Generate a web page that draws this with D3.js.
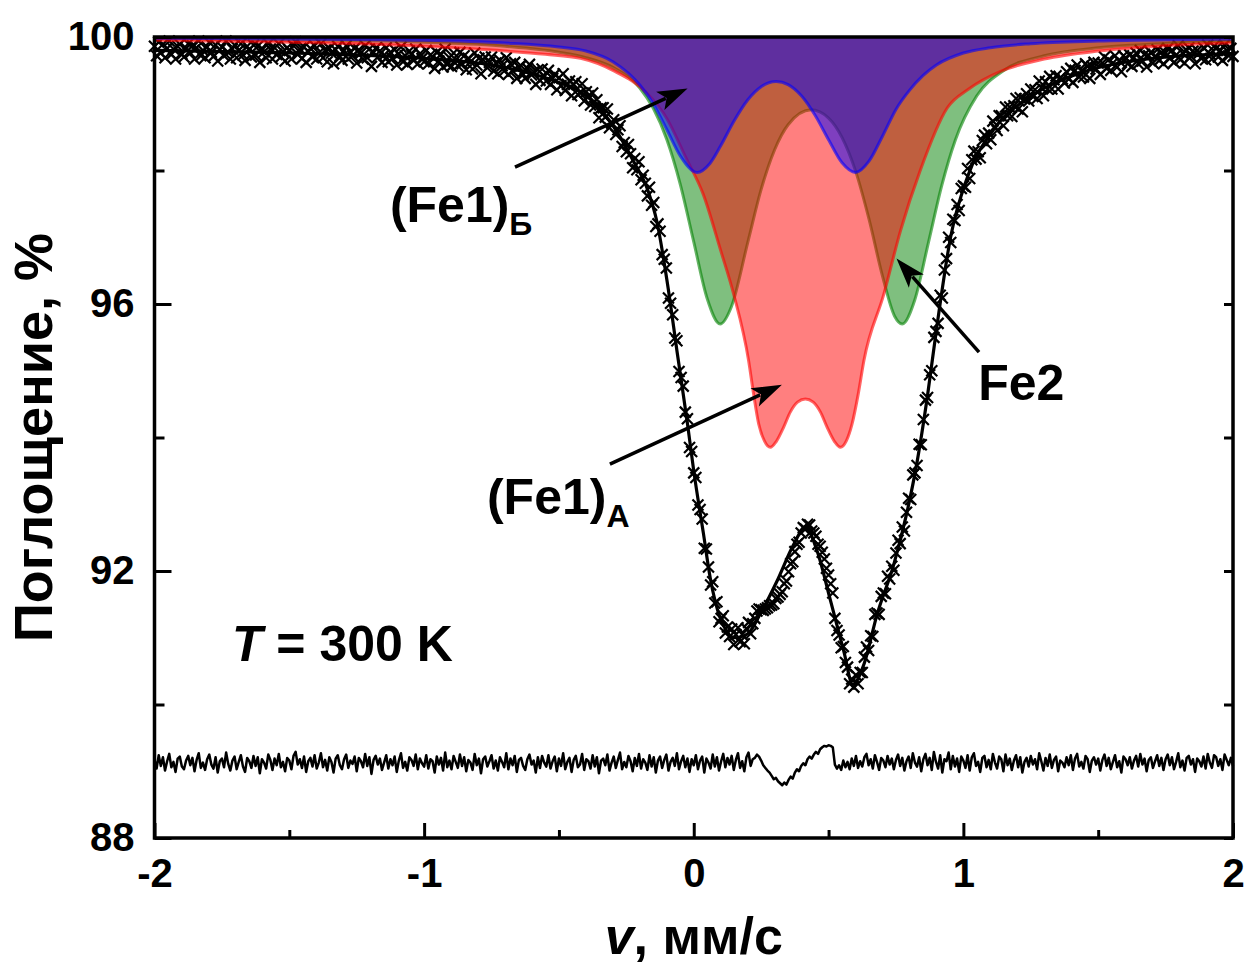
<!DOCTYPE html>
<html>
<head>
<meta charset="utf-8">
<script src="https://cdn.jsdelivr.net/npm/d3@7"></script>
<style>
html, body { margin: 0; padding: 0; background: #fff; }
svg { display: block; font-family: "Liberation Sans", Arial, sans-serif; font-weight: bold; }
</style>
</head>
<body>
<svg id="chart" width="1248" height="966"></svg>
<script>
// Axis limits and ticks
const velocityRange = [-2, 2];
const absorptionRange = [88, 100];
const xMajorTicks = [-2, -1, 0, 1, 2];
const xMinorTicks = [-1.5, -0.5, 0.5, 1.5];
const yMajorTicks = [88, 92, 96, 100];
const yMinorTicks = [90, 94, 98];

// Measured spectrum: 513 channels from -2 to +2 mm/s, absorption in %
const channelStart = -2;
const channelStep = 1 / 128;
const absorption = [
  99.86, 99.72, 99.92, 99.76, 99.89, 99.69, 99.83, 99.94, 99.74, 99.82, 99.67, 99.86, 99.89, 99.74, 99.70, 99.83,
  99.90, 99.76, 99.87, 99.67, 99.84, 99.94, 99.72, 99.80, 99.69, 99.85, 99.92, 99.77, 99.71, 99.88, 99.64, 99.81,
  99.85, 99.72, 99.94, 99.77, 99.67, 99.82, 99.88, 99.69, 99.80, 99.90, 99.73, 99.65, 99.86, 99.81, 99.70, 99.88,
  99.73, 99.86, 99.62, 99.83, 99.78, 99.69, 99.90, 99.82, 99.67, 99.84, 99.74, 99.90, 99.70, 99.78, 99.64, 99.84,
  99.80, 99.67, 99.87, 99.93, 99.74, 99.82, 99.68, 99.85, 99.62, 99.78, 99.83, 99.70, 99.87, 99.67, 99.76, 99.90,
  99.69, 99.80, 99.63, 99.83, 99.76, 99.60, 99.81, 99.86, 99.71, 99.65, 99.80, 99.87, 99.67, 99.78, 99.72, 99.83,
  99.61, 99.81, 99.76, 99.67, 99.87, 99.69, 99.82, 99.56, 99.77, 99.83, 99.70, 99.79, 99.62, 99.73, 99.84, 99.63,
  99.77, 99.68, 99.81, 99.58, 99.75, 99.85, 99.63, 99.72, 99.59, 99.79, 99.74, 99.65, 99.82, 99.60, 99.75, 99.68,
  99.63, 99.80, 99.60, 99.73, 99.70, 99.53, 99.77, 99.64, 99.74, 99.55, 99.82, 99.59, 99.69, 99.56, 99.76, 99.66,
  99.57, 99.77, 99.60, 99.72, 99.51, 99.68, 99.63, 99.52, 99.76, 99.58, 99.68, 99.45, 99.66, 99.70, 99.54, 99.62,
  99.70, 99.49, 99.61, 99.45, 99.65, 99.57, 99.49, 99.69, 99.44, 99.60, 99.49, 99.62, 99.38, 99.55, 99.57, 99.44,
  99.38, 99.53, 99.59, 99.43, 99.48, 99.29, 99.51, 99.35, 99.52, 99.41, 99.34, 99.50, 99.29, 99.38, 99.44, 99.21,
  99.39, 99.27, 99.45, 99.20, 99.29, 99.34, 99.12, 99.29, 99.33, 99.14, 99.16, 99.30, 99.04, 99.18, 99.12, 98.98,
  99.16, 98.96, 99.06, 98.79, 98.94, 98.94, 98.80, 98.92, 98.64, 98.71, 98.76, 98.54, 98.61, 98.67, 98.36, 98.42,
  98.28, 98.39, 98.25, 98.04, 98.18, 98.01, 98.13, 97.86, 97.93, 97.81, 97.62, 97.75, 97.48, 97.52, 97.16, 97.20,
  97.09, 96.74, 96.67, 96.54, 96.09, 96.01, 95.84, 95.49, 95.45, 94.99, 94.90, 94.77, 94.38, 94.28, 93.85, 93.79,
  93.47, 93.40, 92.99, 92.92, 92.78, 92.34, 92.33, 92.06, 91.79, 91.84, 91.52, 91.54, 91.24, 91.29, 91.33, 91.07,
  91.16, 91.02, 91.13, 90.90, 91.05, 91.15, 90.94, 91.05, 90.91, 91.14, 91.23, 91.06, 91.21, 91.29, 91.40, 91.43,
  91.42, 91.41, 91.43, 91.45, 91.48, 91.49, 91.51, 91.59, 91.61, 91.65, 91.69, 91.81, 91.85, 91.99, 92.11, 92.14,
  92.29, 92.40, 92.43, 92.57, 92.65, 92.63, 92.70, 92.69, 92.60, 92.57, 92.52, 92.40, 92.37, 92.28, 92.18, 92.04,
  91.94, 91.81, 91.67, 91.29, 91.11, 91.04, 90.85, 90.87, 90.63, 90.56, 90.31, 90.38, 90.26, 90.44, 90.31, 90.48,
  90.48, 90.71, 90.86, 90.81, 91.03, 91.02, 91.35, 91.37, 91.35, 91.62, 91.67, 91.66, 91.92, 91.88, 92.07, 92.01,
  92.27, 92.46, 92.41, 92.66, 92.60, 92.88, 93.09, 93.07, 93.44, 93.47, 93.58, 93.90, 93.89, 94.27, 94.56, 94.60,
  94.94, 95.00, 95.50, 95.59, 95.71, 96.13, 96.09, 96.51, 96.68, 97.00, 96.92, 97.27, 97.25, 97.49, 97.40, 97.73,
  97.77, 97.75, 98.03, 97.88, 98.16, 98.29, 98.17, 98.28, 98.19, 98.45, 98.53, 98.40, 98.56, 98.46, 98.74, 98.65,
  98.60, 98.82, 98.82, 98.67, 98.95, 98.82, 98.95, 98.81, 98.97, 99.08, 98.92, 99.09, 98.88, 99.07, 99.15, 99.04,
  99.22, 99.11, 99.21, 99.08, 99.34, 99.24, 99.12, 99.33, 99.22, 99.41, 99.22, 99.36, 99.42, 99.22, 99.39, 99.37,
  99.31, 99.48, 99.37, 99.53, 99.32, 99.50, 99.58, 99.40, 99.49, 99.40, 99.60, 99.56, 99.38, 99.56, 99.62, 99.52,
  99.61, 99.44, 99.61, 99.70, 99.53, 99.66, 99.50, 99.61, 99.72, 99.55, 99.64, 99.48, 99.72, 99.69, 99.60, 99.73,
  99.56, 99.69, 99.76, 99.60, 99.80, 99.64, 99.74, 99.55, 99.72, 99.77, 99.61, 99.71, 99.81, 99.65, 99.77, 99.60,
  99.76, 99.83, 99.68, 99.80, 99.62, 99.73, 99.87, 99.66, 99.76, 99.61, 99.80, 99.84, 99.71, 99.79, 99.60, 99.80,
  99.76, 99.68, 99.84, 99.66, 99.88, 99.75, 99.67, 99.86, 99.83, 99.70, 99.80, 99.65, 99.88, 99.80, 99.72, 99.83,
  99.71
];

// Measured minus fit for each channel, in units of 0.01 %
const residual = [
  6, -8, 12, -4, 9, -11, 3, 14, -6, 2, -13, 7, 10, -5, -9, 4,
  11, -3, 8, -12, 5, 15, -7, 1, -10, 6, 13, -2, -8, 9, -14, 3,
  7, -6, 16, -1, -11, 4, 10, -9, 2, 12, -5, -13, 8, 3, -7, 11,
  -4, 9, -15, 6, 1, -8, 13, 5, -10, 7, -3, 14, -6, 2, -12, 8,
  4, -9, 11, 17, -2, 6, -7, 10, -13, 3, 8, -5, 12, -8, 1, 15,
  -6, 5, -11, 9, 2, -14, 7, 12, -3, -9, 6, 13, -7, 4, -1, 10,
  -12, 8, 3, -6, 14, -4, 9, -16, 5, 11, -2, 7, -10, 1, 12, -8,
  6, -3, 10, -13, 4, 15, -7, 2, -11, 9, 5, -4, 13, -9, 7, 0,
  -5, 12, -8, 6, 3, -14, 10, -2, 8, -11, 16, -6, 4, -9, 11, 2,
  -7, 13, -4, 9, -12, 5, 1, -10, 14, -3, 7, -15, 6, 10, -5, 3,
  12, -8, 4, -11, 9, 2, -6, 15, -9, 7, -3, 11, -13, 5, 8, -4,
  -10, 6, 13, -2, 4, -14, 9, -7, 11, 1, -5, 12, -8, 3, 10, -12,
  7, -4, 15, -9, 2, 8, -13, 5, 11, -6, -2, 14, -10, 6, 3, -8,
  12, -5, 9, -15, 4, 7, -3, 13, -11, 1, 10, -7, 5, 16, -9, 2,
  -6, 11, 3, -12, 8, -4, 14, -8, 6, 1, -10, 12, -5, 9, -14, 4,
  10, -7, 5, 13, -11, 2, 8, -4, 15, -9, 3, 11, -6, 7, -13, 6,
  -3, 12, -9, 4, 10, -14, 7, 1, -8, 13, -5, 9, -11, 3, 14, -6,
  8, -2, 11, -10, 5, 15, -7, 3, -12, 9, 16, -4, 6, 8, 13, 10,
  4, -3, -7, -11, -14, -19, -24, -22, -27, -30, -33, -29, -32, -25, -20, -23,
  -14, -9, -12, -4, 0, -3, 6, 10, 7, 13, 17, 14, 21, 24, 26, 25,
  27, 26, 24, -2, -8, -3, -10, 4, -6, 2, -9, 7, -4, 11, -7, 3,
  -5, 9, 14, -3, 6, -8, 12, 2, -10, 8, 4, -6, 11, -2, 7, -9,
  5, 13, -4, 8, -11, 3, 10, -7, 15, 1, -5, 9, -12, 6, 14, -3,
  8, -10, 17, 2, -8, 12, -14, 6, 3, 16, -9, 11, -5, 7, -13, 10,
  4, -7, 12, -11, 9, 15, -4, 2, -13, 8, 11, -6, 5, -9, 14, 1,
  -8, 10, 6, -12, 13, -3, 7, -10, 4, 12, -6, 9, -14, 2, 8, -5,
  11, -2, 6, -9, 15, 3, -11, 8, -4, 13, -7, 5, 10, -12, 4, 1,
  -6, 9, -3, 12, -10, 7, 14, -5, 2, -8, 11, 6, -13, 4, 9, -2,
  7, -11, 5, 13, -4, 8, -9, 2, 12, -6, 3, -14, 10, 6, -3, 9,
  -8, 4, 11, -5, 14, -2, 7, -12, 5, 9, -7, 3, 12, -4, 8, -10,
  6, 13, -3, 9, -9, 2, 15, -6, 4, -11, 8, 11, -2, 6, -13, 7,
  3, -5, 10, -8, 14, 1, -7, 12, 9, -4, 6, -10, 13, 5, -3, 8,
  -4
];

// Fit envelope: velocity (mm/s) and absorption (%)
const fitV = [-2.0, -1.5, -1.0, -0.75, -0.6, -0.5, -0.42, -0.347, -0.28, -0.2236, -0.17, -0.137, -0.0936, -0.0624, -0.023, 0.0, 0.036, 0.061, 0.098, 0.154, 0.2, 0.247, 0.309, 0.371, 0.414, 0.4576, 0.507, 0.5564, 0.59, 0.631, 0.68, 0.742, 0.792, 0.829, 0.866, 0.903, 0.9526, 1.015, 1.11, 1.262, 1.448, 1.7, 2.0];
const fitValue = [99.80, 99.76, 99.68, 99.58, 99.45, 99.32, 99.18, 98.92, 98.55, 98.14, 97.7, 97.24, 96.2, 95.3, 94.2, 93.5, 92.56, 91.9, 91.3, 91.0, 91.06, 91.36, 91.85, 92.4, 92.66, 92.3, 91.56, 90.8, 90.3, 90.6, 91.35, 92.1, 92.9, 93.65, 94.6, 95.7, 97.0, 97.9, 98.6, 99.14, 99.48, 99.68, 99.75];

// (Fe1)Б subspectrum: velocity (mm/s) and depth below 100 % (%)
const fe1bV = [-2.0, -1.5, -1.0, -0.7, -0.5, -0.4, -0.3, -0.2, -0.15, -0.1, -0.05, 0.012, 0.06, 0.1, 0.15, 0.2, 0.25, 0.306, 0.35, 0.4, 0.45, 0.5, 0.55, 0.6, 0.65, 0.7, 0.75, 0.8, 0.85, 0.9, 1.0, 1.1, 1.25, 1.5, 1.75, 2.0];
const fe1bDepth = [0.02, 0.03, 0.05, 0.09, 0.15, 0.21, 0.37, 0.72, 1.0, 1.386, 1.78, 2.029, 1.895, 1.63, 1.254, 0.943, 0.744, 0.667, 0.714, 0.884, 1.172, 1.539, 1.885, 2.029, 1.86, 1.486, 1.085, 0.8, 0.58, 0.42, 0.24, 0.16, 0.10, 0.06, 0.04, 0.03];

// Fe2 subspectrum
const fe2V = [-2.0, -1.5, -1.0, -0.7, -0.5, -0.4, -0.3, -0.2, -0.15, -0.1, -0.05, 0.0, 0.05, 0.098, 0.14, 0.2, 0.25, 0.3, 0.35, 0.4355, 0.5, 0.55, 0.6, 0.65, 0.7, 0.745, 0.773, 0.82, 0.87, 0.92, 0.97, 1.05, 1.15, 1.3, 1.5, 1.75, 2.0];
const fe2Depth = [0.025, 0.041, 0.079, 0.138, 0.227, 0.309, 0.455, 0.764, 1.07, 1.536, 2.207, 3.069, 3.921, 4.30, 4.037, 3.083, 2.283, 1.689, 1.314, 1.091, 1.215, 1.505, 2.006, 2.729, 3.582, 4.184, 4.30, 3.935, 3.087, 2.223, 1.547, 0.881, 0.501, 0.281, 0.162, 0.097, 0.065];

// (Fe1)A subspectrum
const fe1aV = [-2.0, -1.5, -1.0, -0.7, -0.55, -0.42, -0.3, -0.174, -0.1, -0.03, 0.035, 0.1, 0.148, 0.2035, 0.222, 0.241, 0.262, 0.284, 0.306, 0.334, 0.358, 0.385, 0.414, 0.443, 0.47, 0.494, 0.522, 0.544, 0.566, 0.587, 0.61, 0.631, 0.705, 0.767, 0.84, 0.94, 1.02, 1.138, 1.3, 1.5, 1.75, 2.0];
const fe1aDepth = [0.05, 0.08, 0.14, 0.21, 0.26, 0.32, 0.5, 0.84, 1.22, 1.8, 2.354, 3.2, 3.853, 4.85, 5.35, 5.8, 6.05, 6.147, 6.06, 5.84, 5.62, 5.47, 5.423, 5.47, 5.62, 5.84, 6.06, 6.147, 6.05, 5.8, 5.35, 4.85, 3.853, 2.9, 2.0, 1.064, 0.78, 0.516, 0.33, 0.21, 0.13, 0.09];

const svg = d3.select('#chart');
const x = d3.scaleLinear().domain(velocityRange).range([154.5, 1233]);
const y = d3.scaleLinear().domain(absorptionRange).range([838, 37]);
const channelV = absorption.map((a, i) => channelStart + i * channelStep);

const plot = svg.append('g');

// Measured points drawn as crosses
plot.append('g').selectAll('path').data(absorption).join('path')
  .attr('d', (a, i) => `M${x(channelV[i]) - 5.5},${y(a) - 5.5}l11,11m-11,0l11,-11`)
  .attr('stroke', '#000').attr('stroke-width', 2.2).attr('fill', 'none');

// Fit envelope
plot.append('path')
  .attr('d', d3.line().x(v => x(v)).y((v, i) => y(fitValue[i])).curve(d3.curveMonotoneX)(fitV))
  .attr('fill', 'none').attr('stroke', '#000').attr('stroke-width', 3.2);

// Residual trace, shifted below the spectrum
const residualOffset = 89.12;
plot.append('path')
  .attr('d', d3.line().x((r, i) => x(channelV[i])).y(r => y(residualOffset + r / 100))(residual))
  .attr('fill', 'none').attr('stroke', '#000').attr('stroke-width', 2.5).attr('stroke-linejoin', 'round');

// Subspectra, filled from the 100 % baseline down to each curve
function subspectrum(vs, depth, color) {
  const pts = vs.map((v, i) => [v, 100 - depth[i]]);
  const area = d3.area().x(d => x(d[0])).y0(y(100)).y1(d => y(d[1])).curve(d3.curveMonotoneX);
  const line = d3.line().x(d => x(d[0])).y(d => y(d[1])).curve(d3.curveMonotoneX);
  plot.append('path').attr('d', area(pts)).attr('fill', color).attr('fill-opacity', 0.5);
  plot.append('path').attr('d', line(pts)).attr('fill', 'none').attr('stroke', color)
    .attr('stroke-opacity', 0.6).attr('stroke-width', 3);
}
subspectrum(fe2V, fe2Depth, '#008000');
subspectrum(fe1aV, fe1aDepth, '#ff0000');
subspectrum(fe1bV, fe1bDepth, '#0000ff');

// Axes: ticks point inward, no top ticks
function styleAxis(g) {
  g.select('.domain').remove();
  g.selectAll('.tick line').attr('stroke', '#000').attr('stroke-width', 3);
  g.selectAll('text').attr('font-size', 40).attr('font-weight', 'bold').attr('fill', '#000')
    .attr('font-family', '"Liberation Sans", Arial, sans-serif');
}
const plain = d => String(d);
svg.append('g').attr('transform', `translate(0,${y(88)})`)
  .call(d3.axisBottom(x).tickValues(xMajorTicks).tickSize(-15).tickPadding(21).tickFormat(plain))
  .call(styleAxis);
svg.append('g').attr('transform', `translate(0,${y(88)})`)
  .call(d3.axisBottom(x).tickValues(xMinorTicks).tickSize(-8).tickFormat(''))
  .call(styleAxis);
svg.append('g').attr('transform', `translate(${x(-2)},0)`)
  .call(d3.axisLeft(y).tickValues(yMajorTicks).tickSize(-17).tickPadding(20).tickFormat(plain))
  .call(styleAxis);
svg.append('g').attr('transform', `translate(${x(-2)},0)`)
  .call(d3.axisLeft(y).tickValues(yMinorTicks).tickSize(-10).tickFormat(''))
  .call(styleAxis);
svg.append('g').attr('transform', `translate(${x(2)},0)`)
  .call(d3.axisRight(y).tickValues(yMajorTicks.concat(yMinorTicks)).tickSize(-9).tickFormat(''))
  .call(styleAxis);

// Frame
svg.append('rect').attr('x', x(-2)).attr('y', y(100)).attr('width', x(2) - x(-2)).attr('height', y(88) - y(100))
  .attr('fill', 'none').attr('stroke', '#000').attr('stroke-width', 3.5);

// Axis titles
svg.append('text').attr('transform', `translate(52,${(y(88) + y(100)) / 2}) rotate(-90)`)
  .attr('text-anchor', 'middle').attr('font-size', 54).text('Поглощение, %');
const xt = svg.append('text').attr('x', (x(-2) + x(2)) / 2).attr('y', 954)
  .attr('text-anchor', 'middle').attr('font-size', 52);
xt.append('tspan').attr('font-style', 'italic').text('v');
xt.append('tspan').text(', мм/с');

// Subspectrum labels and temperature
function label(v, val, main, sub) {
  const t = svg.append('text').attr('x', x(v)).attr('y', y(val)).attr('font-size', 50);
  t.append('tspan').text(main);
  if (sub) t.append('tspan').attr('font-size', 32).attr('dy', 13).text(sub);
}
label(-1.127, 97.23, '(Fe1)', 'Б');
label(-0.767, 92.85, '(Fe1)', 'A');
label(1.055, 94.56, 'Fe2');
const tl = svg.append('text').attr('x', x(-1.713)).attr('y', y(90.65)).attr('font-size', 50);
tl.append('tspan').attr('font-style', 'italic').text('T');
tl.append('tspan').text(' = 300 K');

// Pointer arrows from labels to subspectra
function arrow(v0, a0, v1, a1) {
  const x0 = x(v0), y0 = y(a0), x1 = x(v1), y1 = y(a1);
  const ang = Math.atan2(y1 - y0, x1 - x0);
  const len = 30, half = 10;
  const bx = x1 - len * Math.cos(ang), by = y1 - len * Math.sin(ang);
  svg.append('line').attr('x1', x0).attr('y1', y0)
    .attr('x2', bx + 6 * Math.cos(ang)).attr('y2', by + 6 * Math.sin(ang))
    .attr('stroke', '#000').attr('stroke-width', 3.5);
  const p = [[x1, y1],
    [bx - half * Math.sin(ang), by + half * Math.cos(ang)],
    [bx + 7 * Math.cos(ang), by + 7 * Math.sin(ang)],
    [bx + half * Math.sin(ang), by - half * Math.cos(ang)]];
  svg.append('path').attr('d', 'M' + p.join('L') + 'Z').attr('fill', '#000');
}
arrow(-0.663, 98.05, -0.023, 99.23);
arrow(1.058, 95.28, 0.752, 96.68);
arrow(-0.311, 93.6, 0.327, 94.79);
</script>
</body>
</html>
